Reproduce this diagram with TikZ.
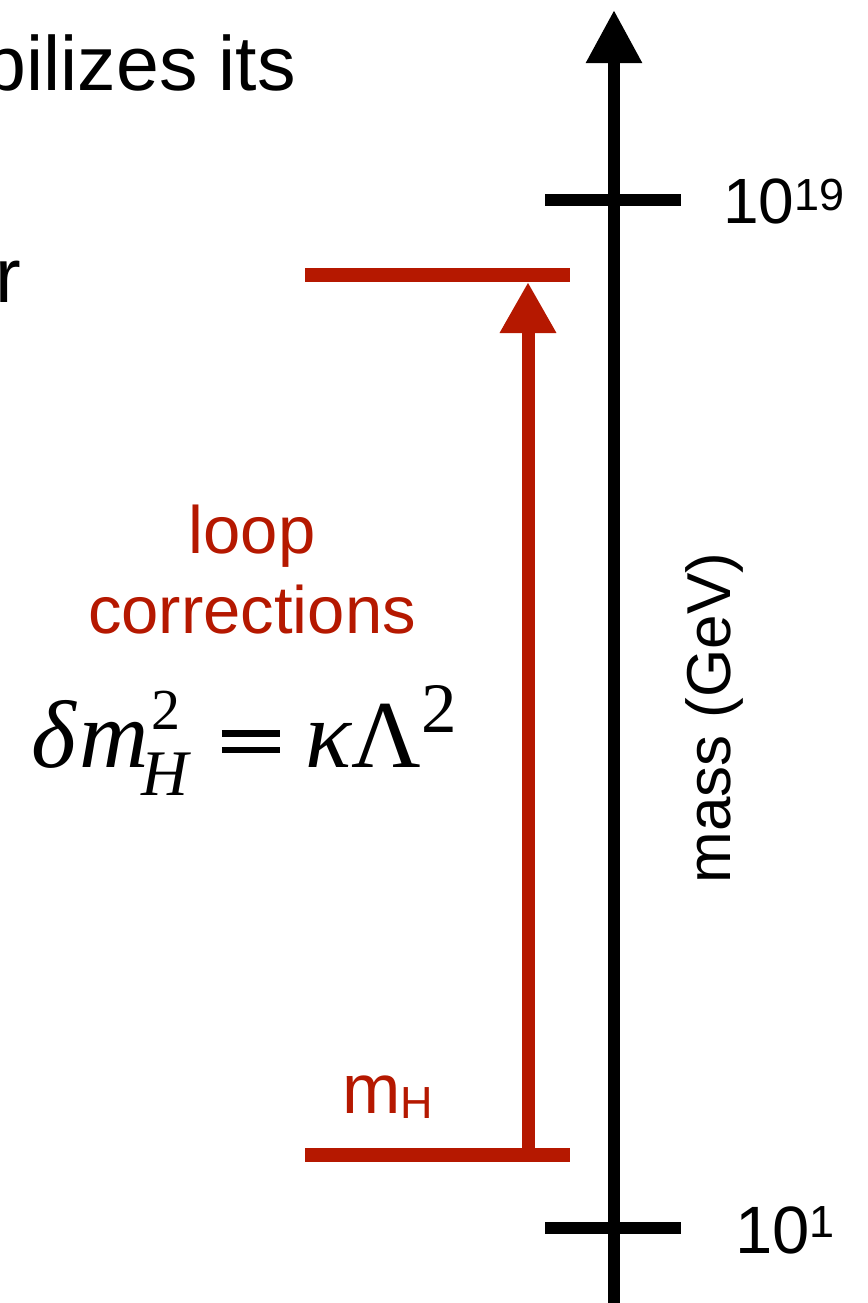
\documentclass[tikz,border=0pt]{standalone}
\usepackage{fontspec}
\setmainfont{Liberation Sans}
\newfontfamily\tms{Liberation Serif}
\usetikzlibrary{arrows.meta}
\definecolor{hred}{RGB}{181,24,0}
\newcommand{\fsz}[1]{\fontsize{#1}{#1}\selectfont}
\begin{document}
\begin{tikzpicture}[x=0.5pt,y=-0.5pt,
  axisline/.style={line width=6pt,black},
  tickline/.style={line width=6pt,black},
  redline/.style={line width=7pt,hred},
  redarrow/.style={line width=6.5pt,hred,-{Triangle[width=26.5pt,length=25.5pt]}},
  txt/.style={inner sep=0pt,outer sep=0pt},
  redtxt/.style={txt,text=hred}]
\useasboundingbox (0,0) rectangle (868,1303);
\clip (0,0) rectangle (868,1303);
% top text (cut off at left)
\node[txt,anchor=base east,font=\fsz{38.5}] (t1) at (296,90) {bilizes its};
\node[txt,anchor=base west,font=\fsz{38.5}] (t2) at (-4,302) {r};
% axis
\coordinate (abot) at (614,1310);
\coordinate (atop) at (614,10);
\draw[axisline,-{Triangle[width=26.5pt,length=26.5pt]}] (abot) -- (atop);
% ticks
\coordinate (t19l) at (545,200); \coordinate (t19r) at (681,200);
\coordinate (t1l) at (545,1228); \coordinate (t1r) at (681,1228);
\draw[tickline] (t19l) -- (t19r);
\draw[tickline] (t1l) -- (t1r);
\node[txt,anchor=base west,font=\fsz{32}] (l19) at (723,223) {10\raisebox{6.5pt}{\fsz{22.5}19}};
\node[txt,anchor=base west,font=\fsz{33.5}] (l1) at (735,1253) {10\raisebox{8pt}{\fsz{22.5}1}};
% axis label
\node[txt,rotate=90,anchor=base,font=\fsz{31}] (mass) at (730,718) {mass (GeV)};
% red levels
\coordinate (hl) at (305,275); \coordinate (hr) at (570,275);
\coordinate (ll) at (305,1155); \coordinate (lr) at (570,1155);
\draw[redline] (hl) -- (hr);
\draw[redline] (ll) -- (lr);
\coordinate (as) at (528,1155); \coordinate (ae) at (528,282);
\draw[redarrow] (as) -- (ae);
% labels
\node[redtxt,anchor=base west,font=\fsz{35}] (mh) at (342,1113) {m\raisebox{-2.5pt}{\fsz{22.5}H}};
\node[redtxt,anchor=base,font=\fsz{33.5}] (loop) at (252,553) {loop};
\node[redtxt,anchor=base,font=\fsz{33.5}] (corr) at (252,633) {corrections};
\node[txt,anchor=base west] (formula) at (0,767) {\tms\fsz{48}%
\rlap{\kern16pt\itshape δ}%
\rlap{\kern40pt\itshape m}%
\rlap{\kern71pt\raisebox{-14pt}{\fsz{32.5}\itshape H}}%
\rlap{\kern76pt\raisebox{19pt}{\fsz{29}2}}%
\rlap{\kern111pt\rule[7pt]{29pt}{3pt}}%
\rlap{\kern111pt\rule[15pt]{29pt}{3.5pt}}%
\rlap{\kern153pt\itshape κ}%
\rlap{\kern176pt Λ}%
\kern211pt\raisebox{17.5pt}{\fsz{35.5}2}};
\end{tikzpicture}
\end{document}
